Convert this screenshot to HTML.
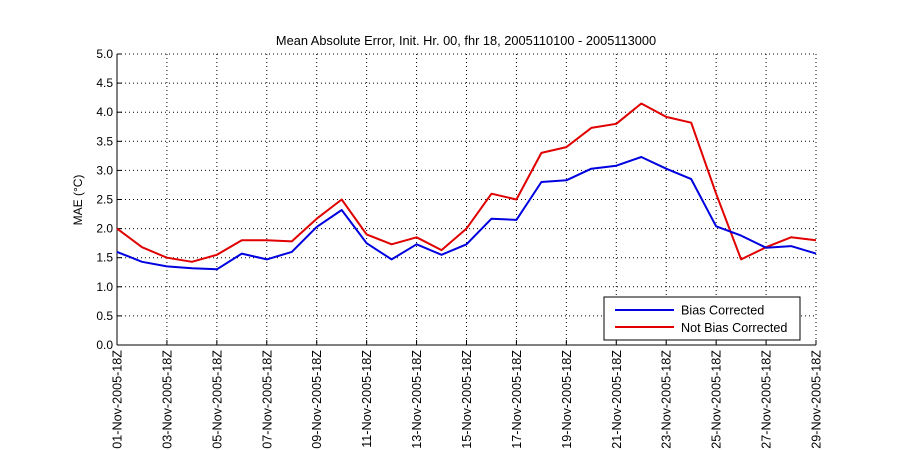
<!DOCTYPE html>
<html><head><meta charset="utf-8"><style>
html,body{margin:0;padding:0;background:#fff;}
svg{display:block;font-family:"Liberation Sans",sans-serif;}
</style></head><body>
<svg id="s" width="900" height="450" xmlns="http://www.w3.org/2000/svg"></svg>
<script>
var L=117,R=816,T=54,B=345;
function X(d){return L+(d-1)*(R-L)/28;}
function Y(v){return B-v*(B-T)/5;}
var h='<rect width="900" height="450" fill="#fff"/>';
h+='<text x="466" y="45" font-size="12.8" text-anchor="middle">Mean Absolute Error, Init. Hr. 00, fhr 18, 2005110100 - 2005113000</text>';
for(var i=0;i<=10;i++){var v=i*0.5,y=Y(v);
 if(i>0)h+='<line x1="'+L+'" x2="'+R+'" y1="'+y+'" y2="'+y+'" stroke="#000" stroke-width="1" stroke-dasharray="1,3"/>';
 h+='<line x1="'+L+'" x2="'+(L+5)+'" y1="'+y+'" y2="'+y+'" stroke="#000"/>';
 h+='<text x="'+(L-4)+'" y="'+(y+4)+'" font-size="12" text-anchor="end">'+v.toFixed(1)+'</text>';}
for(var d=1;d<=29;d+=2){var x=X(d);
 if(d>1)h+='<line x1="'+x+'" x2="'+x+'" y1="'+T+'" y2="'+B+'" stroke="#000" stroke-dasharray="1,3"/>';
 h+='<line x1="'+x+'" x2="'+x+'" y1="'+B+'" y2="'+(B-5)+'" stroke="#000"/>';
 var lab=(d<10?'0':'')+d+'-Nov-2005-18Z';
 h+='<text transform="translate('+(x+4.5)+','+(B+5)+') rotate(-90)" font-size="12.6" text-anchor="end">'+lab+'</text>';}
h+='<line x1="'+L+'" x2="'+L+'" y1="'+T+'" y2="'+B+'" stroke="#000"/>';
h+='<line x1="'+L+'" x2="'+R+'" y1="'+B+'" y2="'+B+'" stroke="#000"/>';
h+='<text transform="translate(82,200) rotate(-90)" font-size="12" text-anchor="middle">MAE (°C)</text>';
var blue=[1.6,1.43,1.35,1.32,1.3,1.57,1.47,1.6,2.03,2.32,1.75,1.47,1.73,1.55,1.73,2.17,2.15,2.8,2.83,3.03,3.08,3.23,3.03,2.85,2.04,1.88,1.67,1.7,1.57];
var red=[2.0,1.68,1.5,1.43,1.55,1.8,1.8,1.78,2.17,2.5,1.9,1.73,1.85,1.63,2.0,2.6,2.5,3.3,3.4,3.73,3.8,4.15,3.92,3.82,2.6,1.47,1.68,1.85,1.8];
function pl(a,c){return '<polyline fill="none" stroke="'+c+'" stroke-width="2" stroke-linejoin="round" points="'+a.map(function(v,i){return X(i+1).toFixed(1)+','+Y(v).toFixed(1)}).join(' ')+'"/>';}
h+=pl(red,'#e00000')+pl(blue,'#0000e0');
h+='<rect x="604" y="297" width="196" height="43" fill="#fff" stroke="#000"/>';
h+='<line x1="615" x2="674" y1="310" y2="310" stroke="#0000e0" stroke-width="2"/>';
h+='<line x1="615" x2="674" y1="327" y2="327" stroke="#e00000" stroke-width="2"/>';
h+='<text x="681" y="314.5" font-size="12.6">Bias Corrected</text>';
h+='<text x="681" y="332" font-size="12.6">Not Bias Corrected</text>';
document.getElementById('s').innerHTML=h;
</script>
</body></html>
